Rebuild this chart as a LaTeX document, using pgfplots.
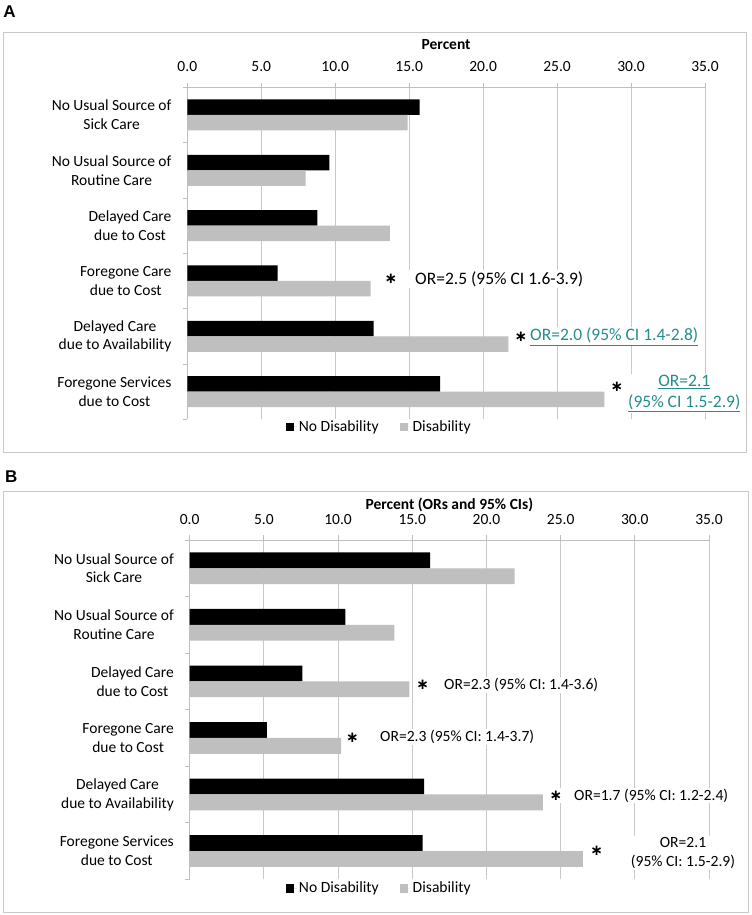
\documentclass[border=0pt]{standalone}
\usepackage{pgfplots}
\pgfplotsset{compat=1.18}
\usepackage{pgfplotstable}
\usepackage{fontspec}
\setmainfont{Carlito}
\newfontfamily\arial{Liberation Sans}
\newfontfamily\dejavu{DejaVu Sans}

\definecolor{bargray}{RGB}{191,191,191}
\definecolor{gridgray}{RGB}{200,200,200}
\definecolor{axisgray}{RGB}{190,190,190}
\definecolor{boxgray}{RGB}{200,200,200}
\definecolor{orteal}{RGB}{38,140,140}

\newcommand\lbl{\fontsize{15.5bp}{18.8bp}\selectfont}
\newcommand\annA{\fontsize{17.5bp}{21bp}\selectfont}
\newcommand\annB{\fontsize{15.6bp}{19.4bp}\selectfont}
\newcommand\st{{\dejavu\bfseries\fontsize{15bp}{15bp}\selectfont\symbol{"2217}}}

% y = 5 is the top category
\pgfplotstableread{
y nodis dis
5 15.7 14.9
4 9.6  8.0
3 8.8  13.7
2 6.1  12.4
1 12.6 21.7
0 17.1 28.2
}\dataA

\pgfplotstableread{
y nodis dis
5 16.2 21.9
4 10.5 13.8
3 7.6  14.8
2 5.2  10.2
1 15.8 23.8
0 15.7 26.5
}\dataB

\pgfplotsset{
  panel/.style={
    xbar, scale only axis,
    xmin=0, xmax=35, ymin=-0.5, ymax=5.5,
    xtick={0,5,...,35},
    xticklabel={\pgfmathprintnumber[assume math mode=true,fixed,fixed zerofill,precision=1]{\tick}},
    ytick={0,...,5},
    minor ytick={-0.5,0.5,...,5.5},
    yticklabels={{Foregone Services\\due to Cost},{Delayed Care\\due to Availability},{Foregone Care\\due to Cost},{Delayed Care\\due to Cost},{No Usual Source of\\Routine Care},{No Usual Source of\\Sick Care}},
    axis x line*=top, axis y line*=left,
    axis line style={-, draw=axisgray, line width=0.8bp},
    xmajorgrids, grid style={gridgray, line width=0.8bp},
    tick align=outside,
    major tick length=4.7bp, minor tick length=4.7bp,
    every tick/.append style={axisgray, line width=0.8bp},
    every major y tick/.append style={draw=none},
    xticklabel style={font=\lbl, anchor=south, inner sep=0pt, yshift=10.5bp},
    yticklabel style={font=\lbl, align=center, inner sep=0pt, xshift=-11bp},
    xlabel style={font=\lbl\bfseries, at={(axis description cs:0.5,1)}, anchor=base, inner sep=0pt},
    bar width=0.28,
    legend columns=2,
    legend image code/.code={\fill[##1] (0bp,-4.25bp) rectangle (8.5bp,4.25bp);
      \path (0bp,0bp) -- (11bp,0bp);},
    legend style={draw=none, fill=none, inner sep=0pt, font=\fontsize{15.6bp}{18bp}\selectfont,
      /tikz/every even column/.append style={column sep=19bp}},
  }
}

\begin{document}
\begin{tikzpicture}
\path[use as bounding box] (0,0) rectangle (752bp,915bp);

% panel A
\draw[boxgray, line width=1bp] (3bp,462.3bp) rectangle (746bp,882.7bp);
\node[font=\arial\bfseries\fontsize{17bp}{17bp}\selectfont, anchor=base west, inner sep=0pt] at (3.3bp,897.7bp) {A};
\begin{axis}[panel,
  at={(187.3bp,495.7bp)}, anchor=south west,
  width=517.7bp, height=332bp,
  xlabel={Percent},
  xlabel style={yshift=37.3bp},
  legend style={at={(axis description cs:0.19,-0.0232)}, anchor=west},
]
\addplot[fill=black, draw=none, bar shift=0.14] table[x=nodis, y=y] {\dataA};
\addplot[fill=bargray, draw=none, bar shift=-0.14] table[x=dis, y=y] {\dataA};
\legend{No Disability, Disability}
\end{axis}

\node[anchor=west, fill=white, inner sep=1bp, font=\annA] at (386bp,636bp) {\hspace{28bp}OR=2.5 (95\% CI 1.6-3.9)};
\node at (391bp,636bp) {\st};
\node[anchor=west, fill=white, inner sep=1bp, font=\annA] at (515.6bp,578.3bp) {\hspace{13.4bp}\textcolor{orteal}{\underline{OR=2.0 (95\% CI 1.4-2.8)}}};
\node at (521bp,578.3bp) {\st};
\node[fill=white, inner sep=2bp] at (617bp,527.7bp) {\st};
\node[align=center, fill=white, inner sep=1bp, font=\annA, text=orteal] at (684.3bp,521.2bp) {\underline{OR=2.1}\\\underline{(95\% CI 1.5-2.9)}};

% panel B
\draw[boxgray, line width=1bp] (3bp,2.3bp) rectangle (748bp,423.3bp);
\node[font=\arial\bfseries\fontsize{17bp}{17bp}\selectfont, anchor=base west, inner sep=0pt] at (5bp,432.3bp) {B};
\begin{axis}[panel,
  at={(189.7bp,35.7bp)}, anchor=south west,
  width=519.3bp, height=339.3bp,
  xlabel={Percent (ORs and 95\% CIs)},
  xlabel style={yshift=31bp},
  legend style={at={(axis description cs:0.185,-0.0265)}, anchor=west},
]
\addplot[fill=black, draw=none, bar shift=0.14] table[x=nodis, y=y] {\dataB};
\addplot[fill=bargray, draw=none, bar shift=-0.14] table[x=dis, y=y] {\dataB};
\legend{No Disability, Disability}
\end{axis}

\node[anchor=west, fill=white, inner sep=1bp, font=\annB] at (417.8bp,230bp) {\hspace{25.2bp}OR=2.3 (95\% CI: 1.4-3.6)};
\node at (422.7bp,230bp) {\st};
\node[anchor=west, fill=white, inner sep=1bp, font=\annB] at (347.4bp,177.8bp) {\hspace{31.6bp}OR=2.3 (95\% CI: 1.4-3.7)};
\node at (352.3bp,177.3bp) {\st};
\node[anchor=west, fill=white, inner sep=1bp, font=\annB] at (551.1bp,119.5bp) {\hspace{21.9bp}OR=1.7 (95\% CI: 1.2-2.4)};
\node at (556bp,119bp) {\st};
\node[fill=white, inner sep=2bp] at (596.7bp,64bp) {\st};
\node[align=center, fill=white, inner sep=1bp, font=\annB] at (683bp,62bp) {OR=2.1\\(95\% CI: 1.5-2.9)};
\end{tikzpicture}
\end{document}
